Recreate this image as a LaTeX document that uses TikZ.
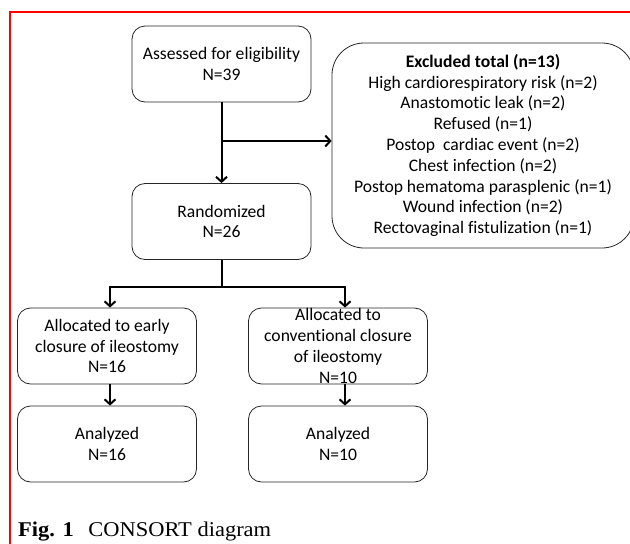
\documentclass[tikz,border=0pt]{standalone}
\usepackage{fontspec}
\usepackage{tikz}
\usetikzlibrary{arrows.meta}
\setmainfont[Ligatures=NoCommon]{Carlito}
\newfontfamily\capfont[FakeStretch=1.07]{Liberation Serif}

\tikzset{
box/.style={draw=black!85,line width=0.8pt,rounded corners=13pt,minimum width=179pt,minimum height=76pt,inner sep=0pt,align=center,font=\fontsize{17.6}{20.8}\selectfont},
bigbox/.style={box,rounded corners=32pt,minimum width=302pt,minimum height=205pt},
arr/.style={line width=2pt,-{Straight Barb[length=5pt,width=11pt,line width=2pt]}}
}

\begin{document}
\begin{tikzpicture}[x=1pt,y=-1pt]
\useasboundingbox (0,0) rectangle (630,544);

\draw[red,line width=2.2pt] (10,560)--(10,12)--(650,12);

\node[box] (assess) at (221.5,64) {Assessed for eligibility\\N=39};

\node[bigbox] (excl) at (483,145.5) {\textbf{Excluded total (n=13)}\\
High cardiorespiratory risk (n=2)\\
Anastomotic leak (n=2)\\
Refused (n=1)\\
Postop~ cardiac event (n=2)\\
Chest infection (n=2)\\
Postop hematoma parasplenic (n=1)\\
Wound infection (n=2)\\
Rectovaginal fistulization (n=1)};

\node[box] (rand) at (221.5,221.5) {Randomized\\N=26};

\node[box] (early) at (107,346) {Allocated to early\\closure of ileostomy\\N=16};
\node[box,label={[name=convtxt,align=center,font=\fontsize{17.6}{20.8}\selectfont]center:{Allocated to\\conventional closure\\of ileostomy\\N=10}}] (conv) at (338,346) {};

\node[box] (anaE) at (107,444) {Analyzed\\N=16};
\node[box] (anaC) at (338,444) {Analyzed\\N=10};


\coordinate (split) at (221.5,141);
\coordinate (fork) at (221.5,287);

\draw[arr] (assess.south)--(rand.north);
\draw[arr] (split)--(split -| excl.west);

\draw[line width=2pt] (rand.south)--(fork);
\draw[arr] (fork)-|([xshift=3pt]early.north);
\draw[arr] (fork)-|([xshift=7pt]conv.north);

\draw[arr] ([xshift=3pt]early.south)--([xshift=3pt]anaE.north);
\draw[arr] ([xshift=7pt]conv.south)--([xshift=7pt]anaC.north);


\node[anchor=base west,inner sep=0pt] (caption) at (18,536) {\capfont\fontsize{21}{25}\selectfont\textbf{Fig. 1}\hspace{0.7em}CONSORT diagram};

\end{tikzpicture}
\end{document}
